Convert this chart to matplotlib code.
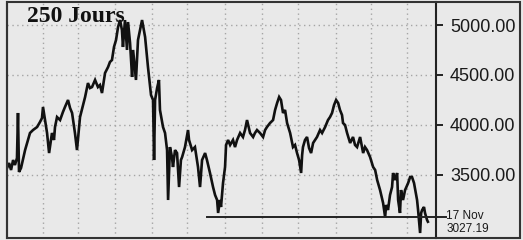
import matplotlib
matplotlib.use("Agg")
import matplotlib.pyplot as plt
from matplotlib.patches import Rectangle

# ---- data ----
days = [0, 1.2, 2.4, 3.6, 4.7, 5.9, 6.5, 7.1, 8.3, 10.7, 12.4, 13.6, 15.4, 17.8, 19.5, 20.7, 21.3,
        22.5, 23.7, 24.9, 26, 26.6, 27.8, 28.4, 29.6, 31.4, 33.1, 34.3, 36.1, 37.3, 38.5, 40.2, 41.4,
        43.2, 45, 46.2, 47.9, 49.1, 50.3, 52.1, 53.8, 55, 56.2, 58, 59.8, 60.9, 62.1, 63.3, 64.5,
        65.7, 66.9, 68, 68.6, 69.8, 71, 71.6, 72.8, 74, 74.6, 76.3, 77.5, 78.7, 79.9, 81.7, 83.4,
        85.2, 86.4, 87, 87.6, 88.8, 89.9, 90.5, 92.3, 93.5, 94.7, 95.3, 95.9, 96.4, 97.6, 98.2,
        99.4, 100.6, 101.8, 102.9, 103.6, 105.3, 107.1, 107.7, 109.5, 111.2, 113, 114.2, 115.4,
        117.2, 118.3, 120.1, 121.9, 123.1, 124.3, 124.9, 126, 126.6, 127.8, 129, 129.6, 130.8,
        132, 133.7, 134.9, 136.1, 137.9, 139.6, 140.8, 142, 143.8, 145.6, 146.7, 147.9, 149.7,
        151.5, 152.7, 153.8, 155.6, 157.4, 158.6, 159.8, 161, 162.1, 163.3, 164.5, 165.7, 167.5,
        169.2, 170.4, 171.6, 172.8, 174, 174.6, 175.1, 176.3, 177.5, 178.7, 179.9, 181.1, 183.4,
        185.2, 186.4, 188.2, 189.9, 191.1, 192.3, 193.5, 194.7, 195.9, 197, 198.2, 198.8, 200,
        201.2, 203, 204.7, 205.9, 207.1, 208.9, 210.7, 211.8, 213, 214.8, 216.6, 217.8, 219,
        220.7, 222.5, 223.7, 224.3, 225.4, 226.6, 227.8, 228.4, 229.6, 230.8, 231.4, 232.5,
        233.1, 234.3, 235.5, 237.3, 238.5, 239.6, 240.8, 242.6, 243.2, 244.4, 245, 245.6, 246.7,
        247.3, 248.5, 249]
values = [3565, 3616, 3546, 3646, 3596, 3666, 4118, 3526, 3566, 3746, 3847, 3917, 3947, 3977, 4027,
          4067, 4178, 4047, 3917, 3716, 3847, 3917, 3847, 3977, 4077, 4047, 4128, 4178, 4248, 4168,
          4118, 3917, 3746, 4077, 4198, 4278, 4418, 4368, 4378, 4449, 4378, 4398, 4318, 4519, 4579,
          4629, 4649, 4780, 4850, 4980, 5050, 4950, 4780, 5050, 4750, 5030, 4820, 4479, 4750, 4449,
          4850, 4950, 5050, 4880, 4579, 4298, 4248, 3646, 4248, 4368, 4449, 4148, 3977, 3917, 3746,
          3245, 3546, 3776, 3676, 3576, 3746, 3716, 3375, 3646, 3676, 3776, 3947, 3847, 3746, 3776,
          3576, 3375, 3646, 3716, 3646, 3516, 3375, 3295, 3245, 3115, 3245, 3175, 3415, 3576, 3797,
          3847, 3797, 3847, 3776, 3847, 3917, 3877, 3947, 4047, 3917, 3877, 3917, 3947, 3917, 3877,
          3947, 3977, 4017, 4047, 4148, 4218, 4278, 4248, 4118, 4148, 4017, 3917, 3776, 3797, 3716,
          3646, 3516, 3696, 3776, 3847, 3877, 3766, 3716, 3817, 3877, 3947, 3917, 3977, 4047, 4077,
          4118, 4198, 4248, 4218, 4148, 4097, 4017, 3997, 3917, 3817, 3877, 3797, 3776, 3877, 3716,
          3776, 3746, 3676, 3576, 3546, 3445, 3345, 3215, 3074, 3195, 3145, 3295, 3375, 3516, 3445,
          3516, 3245, 3115, 3345, 3245, 3345, 3415, 3476, 3476, 3415, 3245, 3145, 2914, 3115, 3145,
          3175, 3115, 3045, 3027.19]

month_ticks = [21.3, 42, 63.9, 85.8, 106.5, 129, 150.9, 172.2, 194.7, 215.4, 236.7]
y_ticks = [3500, 4000, 4500, 5000]
ref_level = 3075
ref_start = 118.3
last_date = "17 Nov"
last_value = 3027.19
title = "250 Jours"

# ---- figure ----
W, H = 523, 240
bg = "#e9e9e9"
fig = plt.figure(figsize=(W / 100, H / 100), dpi=100, facecolor=bg)
ax = fig.add_axes([7 / W, 1 - 238 / H, (436 - 7) / W, (238 - 2) / H])
ax.set_facecolor(bg)

ax.set_xlim(0, 253.8)
ax.set_ylim(2864, 5231)

ax.plot(days, values, color="#111111", lw=1.9, solid_joinstyle="miter")

# reference horizontal line
ax.plot([ref_start, 260], [ref_level, ref_level], color="#222222", lw=1.4, clip_on=False)

# grid
ax.set_xticks(month_ticks)
ax.set_yticks(y_ticks)
ax.grid(True, color="#a5a5a5", linestyle=(0, (1, 2.5)), lw=1.0)
ax.tick_params(axis="x", length=0, labelbottom=False)
ax.yaxis.tick_right()
ax.tick_params(axis="y", direction="out", length=5, width=1.4, color="#222222",
               labelsize=13, pad=5, labelcolor="#1a1a1a")
ax.set_yticklabels([f"{v:.2f}" for v in y_ticks], family="Liberation Sans")

for s in ax.spines.values():
    s.set_visible(False)
ax.spines["left"].set_visible(True)
ax.spines["right"].set_visible(True)
ax.spines["left"].set_linewidth(1.5)
ax.spines["right"].set_linewidth(1.5)
ax.spines["left"].set_color("#333333")
ax.spines["right"].set_color("#222222")

# outer frame
fig.patches.append(Rectangle((7 / W, 1 - 238 / H), (520 - 7) / W, (238 - 2) / H,
                             transform=fig.transFigure, fill=False,
                             edgecolor="#333333", lw=1.5))

# labels
fig.text(27 / W, 1 - 17 / H, title, family="Liberation Serif", weight="bold",
         fontsize=17, va="center", ha="left", color="#111111")
fig.text(446 / W, 1 - 216 / H, last_date, family="Liberation Sans", fontsize=8.5,
         va="center", ha="left", color="#1a1a1a")
fig.text(447 / W, 1 - 229 / H, f"{last_value:.2f}", family="Liberation Sans", fontsize=8.5,
         va="center", ha="left", color="#1a1a1a")

fig.savefig("out.png", dpi=100, facecolor=bg)
